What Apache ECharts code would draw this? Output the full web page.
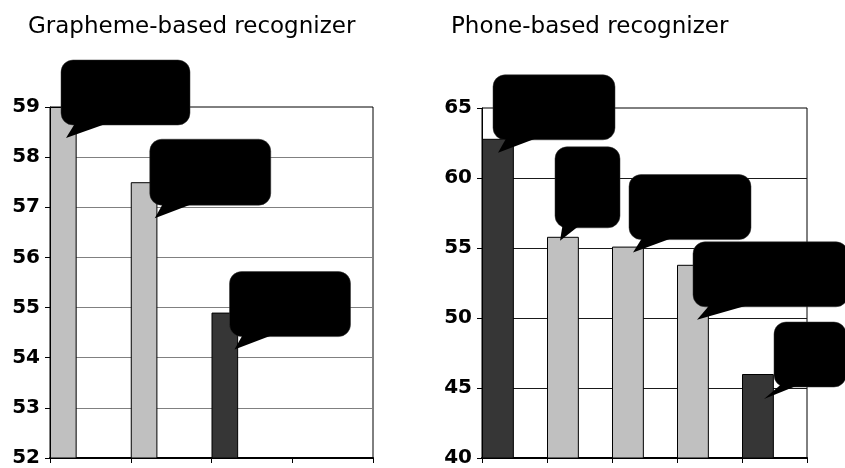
<!DOCTYPE html>
<html><head><meta charset="utf-8">
<script src="https://cdn.jsdelivr.net/npm/echarts@6/dist/echarts.min.js"></script>
<style>html,body{margin:0;padding:0;background:#fff}#c{width:845px;height:468px}</style>
</head><body><div id="c"></div>
<script>
// ---- data ----
const graphemeTitle = 'Grapheme-based recognizer';
const phoneTitle = 'Phone-based recognizer';
const graphemeCategories = ['1', '2', '3', '4'];
const graphemeValues = [59.0, 57.5, 54.9, null];
const phoneCategories = ['1', '2', '3', '4', '5'];
const phoneValues = [62.8, 55.8, 55.1, 53.8, 46.0];
const graphemeTicks = [52, 53, 54, 55, 56, 57, 58, 59];
const phoneTicks = [40, 45, 50, 55, 60, 65];

// ---- styles ----
const LIGHT = '#c0c0c0', DARK = '#363636';
const graphemeColors = [LIGHT, LIGHT, DARK, LIGHT];
const phoneColors = [DARK, LIGHT, LIGHT, LIGHT, DARK];
// callout box: [dx, dy, w, h] from bar top-left; tail tip [tx, ty] from box bottom-left
const graphemeCallouts = [[11, -47, 129, 65, 5, 13], [19, -43, 121, 66, 5, 13], [18, -41, 121, 65, 5, 13]];
const phoneCallouts = [[11, -64, 122, 65, 5, 13], [8, -90, 65, 81, 5, 13], [17, -72, 122, 65, 4, 13], [16, -23, 155, 65, 4, 13], [32, -52, 72, 65, -10, 12]];

function calloutRender(geom) {
  return function (params, api) {
    const g = geom[params.dataIndex];
    if (!g) return;
    const p = api.coord([api.value(0), api.value(1)]);
    const bw = api.size([1, 0])[0];
    const bx = p[0] - bw / 2, by = p[1];
    const x = bx + g[0], y = by + g[1], w = g[2], h = g[3];
    const tipX = x + g[4], tipY = y + h + g[5];
    return {
      type: 'group',
      children: [
        { type: 'rect', shape: { x: x, y: y, width: w, height: h, r: 12 }, style: { fill: '#000', stroke: '#333', lineWidth: 0.5 } },
        { type: 'polygon', shape: { points: [[x + 0.12 * w, y + h - 4], [tipX, tipY], [x + 0.41 * w, y + h - 4]] }, style: { fill: '#000' } }
      ]
    };
  };
}

function yAxisFor(idx, ticks, gridColor) {
  return {
    gridIndex: idx, type: 'value',
    min: ticks[0], max: ticks[ticks.length - 1], interval: ticks[1] - ticks[0],
    axisLine: { show: true, lineStyle: { color: '#000', width: 1 } },
    axisTick: { show: true, length: 5, lineStyle: { color: '#000', width: 1 } },
    axisLabel: { fontFamily: 'DejaVu Sans', fontWeight: 'bold', fontSize: 20, color: '#000', margin: 10 },
    splitLine: { show: true, showMinLine: false, showMaxLine: false, lineStyle: { color: gridColor, width: 1 } }
  };
}
function xAxisFor(idx, cats) {
  return {
    gridIndex: idx, type: 'category', data: cats, boundaryGap: true,
    axisLine: { show: true, lineStyle: { color: '#000', width: 2 } },
    axisTick: { show: true, length: 5, lineStyle: { color: '#000', width: 1 } },
    axisLabel: { show: false },
    splitLine: { show: false }
  };
}

const chart = echarts.init(document.getElementById('c'), null, { renderer: 'canvas' });
chart.setOption({
  animation: false,
  backgroundColor: '#fff',
  title: [
    { text: graphemeTitle, left: 28, top: 16, padding: 0, textStyle: { fontFamily: 'DejaVu Sans', fontSize: 23, fontWeight: 'normal', color: '#000' } },
    { text: phoneTitle, left: 451, top: 16, padding: 0, textStyle: { fontFamily: 'DejaVu Sans', fontSize: 23, fontWeight: 'normal', color: '#000' } }
  ],
  grid: [
    { left: 50, top: 107, width: 323, height: 353, show: true, borderColor: '#000', borderWidth: 1, backgroundColor: 'transparent', containLabel: false },
    { left: 482, top: 108, width: 325, height: 353, show: true, borderColor: '#000', borderWidth: 1, backgroundColor: 'transparent', containLabel: false }
  ],
  xAxis: [xAxisFor(0, graphemeCategories), xAxisFor(1, phoneCategories)],
  yAxis: [yAxisFor(0, graphemeTicks, '#808080'), yAxisFor(1, phoneTicks, '#1a1a1a')],
  series: [
    {
      type: 'bar', xAxisIndex: 0, yAxisIndex: 0, data: graphemeValues,
      barWidth: '33%', barGap: '0%',
      itemStyle: { color: (p) => graphemeColors[p.dataIndex], borderColor: '#000', borderWidth: 1 }
    },
    { type: 'bar', xAxisIndex: 0, yAxisIndex: 0, data: graphemeValues.map(() => '-'), barWidth: '67%', barGap: '0%' },
    {
      type: 'bar', xAxisIndex: 1, yAxisIndex: 1, data: phoneValues,
      barWidth: '49%', barGap: '0%',
      itemStyle: { color: (p) => phoneColors[p.dataIndex], borderColor: '#000', borderWidth: 1 }
    },
    { type: 'bar', xAxisIndex: 1, yAxisIndex: 1, data: phoneValues.map(() => '-'), barWidth: '51%', barGap: '0%' },
    {
      type: 'custom', xAxisIndex: 0, yAxisIndex: 0, z: 10, clip: false,
      data: graphemeValues.map((v, i) => [i, v]).filter(d => d[1] != null),
      encode: { x: 0, y: 1 },
      renderItem: calloutRender(graphemeCallouts)
    },
    {
      type: 'custom', xAxisIndex: 1, yAxisIndex: 1, z: 10, clip: false,
      data: phoneValues.map((v, i) => [i, v]),
      encode: { x: 0, y: 1 },
      renderItem: calloutRender(phoneCallouts)
    }
  ]
});
</script>
</body></html>
